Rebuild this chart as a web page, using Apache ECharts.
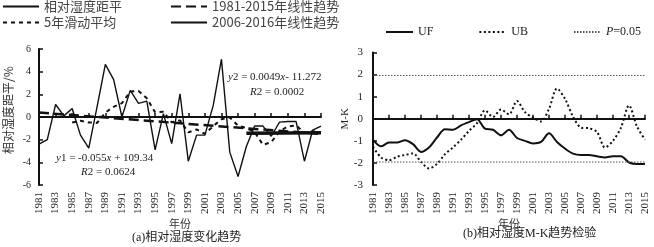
<!DOCTYPE html>
<html>
<head>
<meta charset="utf-8">
<script src="https://cdn.jsdelivr.net/npm/echarts@6/dist/echarts.min.js"></script>
<style>
  html, body { margin: 0; padding: 0; background: #fff; }
  #main { width: 654px; height: 247px; }
</style>
</head>
<body>
<div id="main"></div>
<script>
// years on both x axes
const years = ['1981', '1982', '1983', '1984', '1985', '1986', '1987', '1988', '1989', '1990',
  '1991', '1992', '1993', '1994', '1995', '1996', '1997', '1998', '1999', '2000',
  '2001', '2002', '2003', '2004', '2005', '2006', '2007', '2008', '2009', '2010',
  '2011', '2012', '2013', '2014', '2015'];

// (a) relative humidity anomaly, %
const rhAnomaly = [-2.4, -2.0, 1.1, 0.1, 0.75, -1.6, -2.75, 0.9, 4.65, 3.3,
  0.0, 2.35, 1.2, 1.4, -2.9, 0.3, -2.35, 2.05, -3.9, -1.6,
  -1.6, 1.0, 5.1, -3.1, -5.25, -2.6, -0.8, -0.8, -1.7, -0.45,
  -0.4, -0.4, -3.9, -1.15, -0.8];

// 5-year moving average (starts 1985)
const movingAvg = [null, null, null, null, -0.49, -0.33, -0.48, -0.52, 0.39, 0.9,
  1.22, 2.24, 2.3, 1.65, 0.41, 0.47, -0.47, -0.3, -1.36, -1.1,
  -1.48, -0.81, -0.2, -0.04, -0.77, -0.97, -1.33, -2.45, -2.23, -1.27,
  -0.83, -0.75, -1.37, -1.26, -1.33];

// trend line end points
const trendAll = [['1981', 0.39], ['2015', -1.49]];
const trendRecent = [['2006', -1.44], ['2015', -1.40]];

// (b) Mann-Kendall statistics
const ufValues = [-0.96, -1.25, -1.08, -1.08, -0.97, -1.15, -1.5, -1.3, -0.85, -0.48,
  -0.5, -0.3, -0.15, -0.02, -0.45, -0.5, -0.75, -0.5, -0.87, -1.0,
  -1.12, -1.05, -0.66, -1.05, -1.35, -1.58, -1.64, -1.64, -1.7, -1.75,
  -1.7, -1.7, -1.98, -2.05, -2.05];
const ubValues = [-1.27, -1.75, -1.88, -1.72, -1.64, -1.57, -1.95, -2.25, -2.05, -1.6,
  -1.3, -0.95, -0.55, -0.2, 0.38, 0.08, 0.42, 0.2, 0.8, 0.3,
  0.05, -0.12, 0.45, 1.37, 0.9, 0.1, -0.4, -0.43, -0.6, -1.3,
  -1.0, -0.4, 0.6, -0.35, -0.95];
const pUpper = [['1981', 1.96], ['2015', 1.96]];
const pLower = [['1981', -1.96], ['2015', -1.96]];

const serif = "'Liberation Serif', 'Times New Roman', serif";
const cjk = "'Noto Sans CJK SC', sans-serif";
const mixed = "'Liberation Serif', 'Noto Sans CJK SC', serif";
const ink = '#111';

function makeXAxis(gridIndex) {
  return {
    type: 'category',
    gridIndex: gridIndex,
    data: years,
    boundaryGap: false,
    axisLine: { lineStyle: { color: ink, width: 2 } },
    axisTick: { inside: true, interval: 1, length: 4, lineStyle: { color: ink, width: 1.5 } },
    axisLabel: { interval: 1, rotate: 90, fontSize: 11, fontFamily: serif, color: '#222', margin: 7 },
    splitLine: { show: false },
    name: '年份',
    nameLocation: 'middle',
    nameGap: 33,
    nameMoveOverlap: false,
    nameTextStyle: { fontFamily: cjk, fontSize: 11, color: '#333' }
  };
}

function lineSeries(name, data, xi, style, extra) {
  return Object.assign({
    name: name,
    type: 'line',
    xAxisIndex: xi,
    yAxisIndex: xi,
    data: data,
    symbol: 'none',
    color: style.color || ink,
    itemStyle: { color: style.color || ink },
    lineStyle: Object.assign({ color: ink }, style)
  }, extra || {});
}

// legend only shows the line sample, not a symbol
const hiddenSymbol = { color: 'rgba(0,0,0,0)', borderWidth: 0, opacity: 0 };

function cjkLegend(name, left, top) {
  return {
    left: left, top: top, itemWidth: 36, itemHeight: 14, padding: 0,
    data: [name], itemStyle: hiddenSymbol,
    textStyle: { fontFamily: cjk, fontSize: 13, color: '#444' }
  };
}

const chart = echarts.init(document.getElementById('main'));

chart.setOption({
  animation: false,
  backgroundColor: '#fff',
  title: [
    { text: '(a)相对湿度变化趋势', left: 132, top: 232, padding: 0,
      textStyle: { fontFamily: mixed, fontSize: 12, fontWeight: 'normal', color: '#222' } },
    { text: '(b)相对湿度M-K趋势检验', left: 463, top: 228, padding: 0,
      textStyle: { fontFamily: mixed, fontSize: 12, fontWeight: 'normal', color: '#222' } }
  ],
  legend: [
    cjkLegend('相对湿度距平', 2, 0),
    cjkLegend('1981-2015年线性趋势', 170, 0),
    cjkLegend('5年滑动平均', 2, 16),
    cjkLegend('2006-2016年线性趋势', 170, 16),
    { left: 385, top: 26, itemWidth: 27, itemHeight: 14, itemGap: 45, padding: 0,
      data: ['UF', 'UB', 'P=0.05'], itemStyle: hiddenSymbol,
      formatter: function (name) { return name === 'P=0.05' ? '{i|P}=0.05' : name; },
      textStyle: { fontFamily: serif, fontSize: 12, color: '#222',
        rich: { i: { fontFamily: serif, fontSize: 12, fontStyle: 'italic', color: '#222' } } } }
  ],
  grid: [
    { left: 39, top: 49, width: 282, height: 136 },
    { left: 373, top: 52.5, width: 272, height: 132.5 }
  ],
  xAxis: [makeXAxis(0), makeXAxis(1)],
  yAxis: [
    {
      type: 'value', gridIndex: 0, min: -6, max: 6, interval: 2,
      axisLine: { show: true, lineStyle: { color: ink, width: 2 } },
      axisTick: { show: true, inside: true, length: 4, lineStyle: { color: ink, width: 1.5 } },
      axisLabel: { fontSize: 10, fontFamily: serif, color: '#222', margin: 8 },
      splitLine: { show: false },
      name: '相对湿度距平/%', nameLocation: 'middle', nameGap: 25, nameMoveOverlap: false,
      nameTextStyle: { fontFamily: cjk, fontSize: 12, color: '#333', padding: [0, 0, 0, 14] }
    },
    {
      type: 'value', gridIndex: 1, min: -3, max: 3, interval: 1,
      axisLine: { show: true, lineStyle: { color: ink, width: 2 } },
      axisTick: { show: true, inside: true, length: 4, lineStyle: { color: ink, width: 1.5 } },
      axisLabel: { fontSize: 11, fontFamily: serif, color: '#222', margin: 10 },
      splitLine: { show: false },
      name: 'M-K', nameLocation: 'middle', nameGap: 22, nameMoveOverlap: false,
      nameTextStyle: { fontFamily: serif, fontSize: 11, color: '#222' }
    }
  ],
  graphic: [
    { type: 'text', x: 56, y: 158,
      style: { text: '{i|y}1 = -0.055{i|x} + 109.34', fill: '#222', font: '11px ' + serif, verticalAlign: 'middle',
        rich: { i: { fontStyle: 'italic', fontFamily: serif, fontSize: 11 } } } },
    { type: 'text', x: 81, y: 172,
      style: { text: '{i|R}2 = 0.0624', fill: '#222', font: '11px ' + serif, verticalAlign: 'middle',
        rich: { i: { fontStyle: 'italic', fontFamily: serif, fontSize: 11 } } } },
    { type: 'text', x: 228, y: 77,
      style: { text: '{i|y}2 = 0.0049{i|x}- 11.272', fill: '#222', font: '11px ' + serif, verticalAlign: 'middle',
        rich: { i: { fontStyle: 'italic', fontFamily: serif, fontSize: 11 } } } },
    { type: 'text', x: 250, y: 92,
      style: { text: '{i|R}2 = 0.0002', fill: '#222', font: '11px ' + serif, verticalAlign: 'middle',
        rich: { i: { fontStyle: 'italic', fontFamily: serif, fontSize: 11 } } } }
  ],
  series: [
    lineSeries('相对湿度距平', rhAnomaly, 0, { width: 1.4 }, { z: 3 }),
    lineSeries('5年滑动平均', movingAvg, 0, { width: 2, type: [4, 4] }),
    lineSeries('1981-2015年线性趋势', trendAll, 0, { width: 2.5, type: [10, 5] }),
    lineSeries('2006-2016年线性趋势', trendRecent, 0, { width: 3.5 }, { z: 4 }),
    lineSeries('UF', ufValues, 1, { width: 2 }, { smooth: 0.3 }),
    lineSeries('UB', ubValues, 1, { width: 2, type: [2, 2.5] }, { smooth: 0.3 }),
    lineSeries('P=0.05', pUpper, 1, { width: 1, type: [1.5, 1.5], color: '#555' }),
    lineSeries('P=0.05', pLower, 1, { width: 1, type: [1.5, 1.5], color: '#555' })
  ]
});
</script>
</body>
</html>
